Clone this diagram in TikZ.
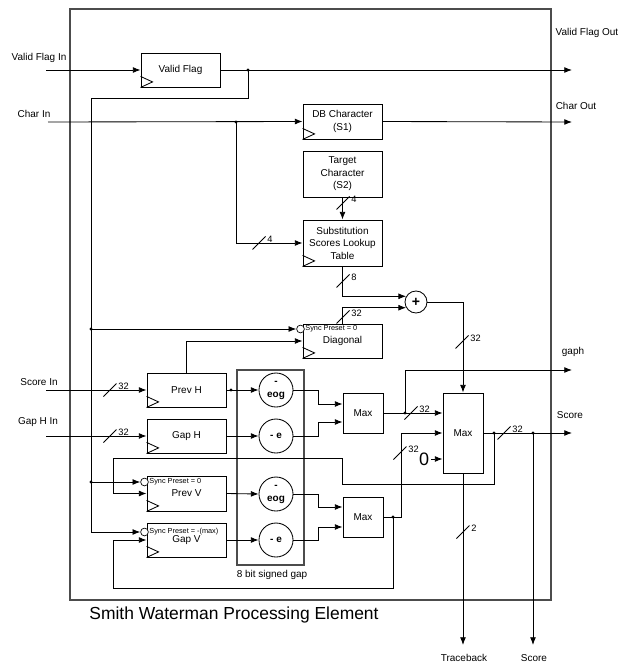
\documentclass[tikz,border=0pt]{standalone}
\usepackage{fontspec}
\setmainfont{Liberation Sans}
\usetikzlibrary{arrows.meta,calc}
\begin{document}
\begin{tikzpicture}[x=0.025cm,y=-0.025cm,line width=0.6pt,
  >={Latex[length=5.5pt,width=4.2pt]},
  every node/.style={inner sep=0pt,font=\fontsize{7.1}{8.9}\selectfont},
  reg/.style={draw,minimum width=1.975cm,minimum height=0.85cm,align=center},
  op/.style={draw,circle,minimum size=0.85cm,align=center,font=\fontsize{7.1}{9.2}\selectfont\bfseries},
  maxbox/.style={draw,minimum width=1cm,minimum height=1cm},
  pre/.style={draw,circle,fill=white,minimum size=5.5pt,line width=0.5pt},
  sync/.style={anchor=west,font=\fontsize{5.2}{6}\selectfont},
  frame/.style={draw=black!70,line width=0.9pt},
  buslbl/.style={anchor=west,font=\fontsize{6.6}{8}\selectfont}]
  \useasboundingbox (0,0) rectangle (620,664);

  \node[frame,minimum width=12.025cm,minimum height=14.775cm] (pe) at (310.5,304.5) {};
  \node[frame,minimum width=1.675cm,minimum height=4.875cm] (sgap) at (270.5,467.5) {};

  \node[reg] (vflag) at (180.5,70) {Valid Flag};
  \node[reg,minimum height=0.875cm] (dbchar) at (342.5,121.5) {DB Character\\(S1)};
  \node[reg,minimum height=1.15cm] (target) at (342.5,174) {Target\\Character\\(S2)};
  \node[reg,minimum height=1.15cm] (subst) at (342.5,243) {Substitution\\Scores Lookup\\Table};
  \node[reg] (diag) at (342.5,341) {Diagonal};
  \node[reg] (prevh) at (186.5,390) {Prev H};
  \node[reg] (gaph) at (186.5,436) {Gap H};
  \node[reg,minimum height=0.875cm] (prevv) at (186.5,493.5) {Prev V};
  \node[reg] (gapv) at (186.5,540) {Gap V};

  \node[sync] (dgsync) at (305,329) {Sync Preset = 0};
  \node[sync] (pvsync) at (149,482) {Sync Preset = 0};
  \node[sync] (gvsync) at (149,532) {Sync Preset = -(max)};
  \node[pre] (dgpre) at (300.5,329) {};
  \node[pre] (pvpre) at (144.5,482) {};
  \node[pre] (gvpre) at (144.5,532) {};

  \node[op] (eogh) at (276,390) {-\\eog};
  \node[op] (eh) at (276,436) {- e};
  \node[op] (eogv) at (276,494) {-\\eog};
  \node[op] (ev) at (276,540) {- e};
  \node[draw,circle,minimum size=0.55cm,font=\bfseries] (adder) at (416,302) {+};

  \node[maxbox] (max1) at (363,413) {Max};
  \node[maxbox] (max2) at (363,517) {Max};
  \node[maxbox,minimum height=2cm] (maxbig) at (463,433) {Max};
  \node[font=\fontsize{12.8}{14}\selectfont] (zero) at (424,459) {0};

  \node (lvfin) at (39,58) {Valid Flag In};
  \node (lchin) at (34,114) {Char In};
  \node (lvfout) at (587,33) {Valid Flag Out};
  \node (lchout) at (576,106) {Char Out};
  \node (lgaph) at (573,352) {gaph};
  \node (lscore) at (570,415) {Score};
  \node (lscin) at (39,382) {Score In};
  \node (lghin) at (38,422) {Gap H In};
  \node (ltb) at (464,658) {Traceback};
  \node (lsc) at (534,658) {Score};
  \node (lgap) at (272,575) {8 bit signed gap};
  \node[font=\fontsize{12.4}{14}\selectfont] (title) at (234,615) {Smith Waterman Processing Element};

  \coordinate (vfin) at (46,70);
  \coordinate (vfout) at (572,70);
  \coordinate (chin) at (48,122);
  \coordinate (chout) at (572,122);
  \coordinate (scin) at (46,390);
  \coordinate (ghin) at (46,436);
  \coordinate (ghout) at (572,370);
  \coordinate (scout) at (572,433);
  \coordinate (tbout) at (463,645);
  \coordinate (scdown) at (533,645);
  \coordinate (jvf) at (248,70);
  \coordinate (jch) at (236,122);
  \coordinate (jdg) at (91,329);
  \coordinate (jpv) at (91,482);
  \coordinate (jph) at (231,390);
  \coordinate (jm1) at (405,413);
  \coordinate (jmb) at (494,433);
  \coordinate (jsc) at (533,433);
  \coordinate (jm2) at (393,517);

  \draw[->] (vfin) -- (vflag.west);
  \draw[->] (vflag.east) -- (vfout);
  \draw[->] (jvf) |- (91,98) |- (gvpre.west);
  \draw[->] (jdg) -- (dgpre.west);
  \draw[->] (jpv) -- (pvpre.west);
  \draw[->] (chin) -- (dbchar.west);
  \draw[->] (dbchar.east) -- (chout);
  \draw[->] (jch) |- (subst.west);
  \draw[->] (target.south) -- (subst.north);
  \draw[->] (subst.south) |- (adder.150);
  \draw[->] (diag.north) |- (adder.210);
  \draw[->] (adder.east) -| (maxbig.north);
  \draw[->] (prevh.north) |- (diag.west);
  \draw[->] (scin) -- (prevh.west);
  \draw[->] (prevh.east) -- (eogh.west);
  \draw[->] (ghin) -- (gaph.west);
  \draw[->] (gaph.east) -- (eh.west);
  \draw[->] (prevv.east) -- (eogv.west);
  \draw[->] (gapv.east) -- (ev.west);
  \draw[->] (eogh.east) -- ++(25,0) |- ($(max1.west)+(0,-9)$);
  \draw[->] (eh.east) -- ++(25,0) |- ($(max1.west)+(0,9)$);
  \draw[->] (eogv.east) -- ++(25,0) |- ($(max2.west)+(0,-10)$);
  \draw[->] (ev.east) -- ++(25,0) |- ($(max2.west)+(0,10)$);
  \draw[->] (max1.east) -- ($(maxbig.west)+(0,-20)$);
  \draw[->] (jm1) |- (ghout);
  \draw[->] (max2.east) -- (401,517) |- (maxbig.west);
  \draw[->] (zero.east) ++(2,0) -- ($(maxbig.west)+(0,26)$);
  \draw[->] (maxbig.east) -- (scout);
  \draw[->] (maxbig.south) -- (tbout);
  \draw[->] (jsc) -- (scdown);
  \draw[->] (jmb) |- (342,484) |- (113,458) |- (prevv.west);
  \draw[->] (jm2) |- (113,588) |- (gapv.west);

  \foreach \b in {vflag,dbchar,subst,diag,prevh,gaph,prevv,gapv}
    \draw ($(\b.south west)+(0,-11)$) -- ++(12,5.5) -- ++(-12,5.5);

  \foreach \x/\y/\t [count=\i] in {259/243/4,343/203/4,343/281/8,343/317/32,462/342/32,
      110/390/32,110/436/32,411/413/32,400/453/32,504/433/32,463/532/2} {
    \draw (\x-6.5,\y+6.5) -- (\x+6.5,\y-6.5);
    \node[buslbl] (bus\i) at (\x+8,\y-4) {\t};
  }

  \foreach \j in {jvf,jch,jdg,jpv,jph,jm1,jmb,jsc,jm2}
    \fill (\j) circle (1.6);
\end{tikzpicture}
\end{document}
